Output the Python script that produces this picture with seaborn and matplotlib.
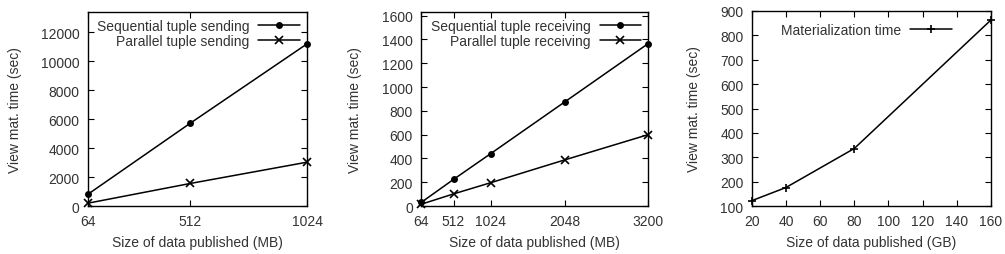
import matplotlib
matplotlib.use("Agg")
import matplotlib.pyplot as plt
import seaborn as sns

# Panel 1: tuple sending
send_sizes = [64, 512, 1024]
send_seq = [820, 5720, 11200]
send_par = [200, 1560, 3030]

# Panel 2: tuple receiving
recv_sizes = [64, 512, 1024, 2048, 3200]
recv_seq = [30, 224, 440, 875, 1365]
recv_par = [15, 102, 196, 388, 600]

# Panel 3: materialization time
mat_sizes = [20, 40, 80, 160]
mat_time = [122, 176, 336, 863]

sns.set_style("ticks")
plt.rcParams["font.family"] = ["Liberation Sans", "DejaVu Sans"]
plt.rcParams.update({
    "font.size": 10,
    "text.color": "#333333",
    "axes.labelcolor": "#333333",
    "xtick.color": "black",
    "ytick.color": "black",
    "xtick.labelcolor": "#333333",
    "ytick.labelcolor": "#333333",
    "xtick.direction": "in",
    "ytick.direction": "in",
    "xtick.top": True,
    "ytick.right": True,
    "xtick.major.size": 4,
    "ytick.major.size": 4,
    "axes.edgecolor": "black",
    "axes.linewidth": 1.0,
})

fig = plt.figure(figsize=(10.05, 2.55), dpi=100)
ax1 = fig.add_axes([0.0876, 0.188, 0.2179, 0.761])
ax2 = fig.add_axes([0.419, 0.188, 0.226, 0.761])
ax3 = fig.add_axes([0.748, 0.188, 0.238, 0.765])

lw = 1.1
dot = dict(color="black", lw=lw, marker="o", markersize=5, markeredgewidth=0,
           clip_on=False)
cross = dict(color="black", lw=lw, marker="x", markersize=5.5, markeredgewidth=1.2,
             markeredgecolor="black", clip_on=False)
plus = dict(color="black", lw=lw, marker="+", markersize=6, markeredgewidth=1.2,
            markeredgecolor="black", clip_on=False)

sns.lineplot(x=send_sizes, y=send_seq, ax=ax1, label="Sequential tuple sending", **dot)
sns.lineplot(x=send_sizes, y=send_par, ax=ax1, label="Parallel tuple sending", **cross)
ax1.set_xlim(64, 1024)
ax1.set_ylim(0, 13400)
ax1.set_xticks(send_sizes)
ax1.set_yticks(range(0, 12001, 2000))

sns.lineplot(x=recv_sizes, y=recv_seq, ax=ax2, label="Sequential tuple receiving", **dot)
sns.lineplot(x=recv_sizes, y=recv_par, ax=ax2, label="Parallel tuple receiving", **cross)
ax2.set_xlim(64, 3200)
ax2.set_ylim(0, 1630)
ax2.set_xticks(recv_sizes)
ax2.set_yticks(range(0, 1601, 200))

sns.lineplot(x=mat_sizes, y=mat_time, ax=ax3, label="Materialization time", **plus)
ax3.set_xlim(20, 160)
ax3.set_ylim(100, 900)
ax3.set_xticks(range(20, 161, 20))
ax3.set_yticks(range(100, 901, 100))

legend_kw = dict(frameon=False, markerfirst=False, handlelength=3.0,
                 handletextpad=0.65, labelspacing=0.05, borderaxespad=0.3,
                 borderpad=0.2, fontsize=10)

for ax, unit in [(ax1, "MB"), (ax2, "MB"), (ax3, "GB")]:
    ax.set_xlabel(f"Size of data published ({unit})", labelpad=5)
    ax.set_ylabel("View mat. time (sec)", labelpad=14)
    ax.tick_params(which="both", pad=6)
    for sp in ax.spines.values():
        sp.set_zorder(0)

ax1.legend(loc="upper right", **legend_kw)
ax2.legend(loc="upper right", **legend_kw)
ax3.legend(loc="center right", bbox_to_anchor=(0.865, 0.903), **legend_kw)

fig.savefig("out.png", dpi=100)
